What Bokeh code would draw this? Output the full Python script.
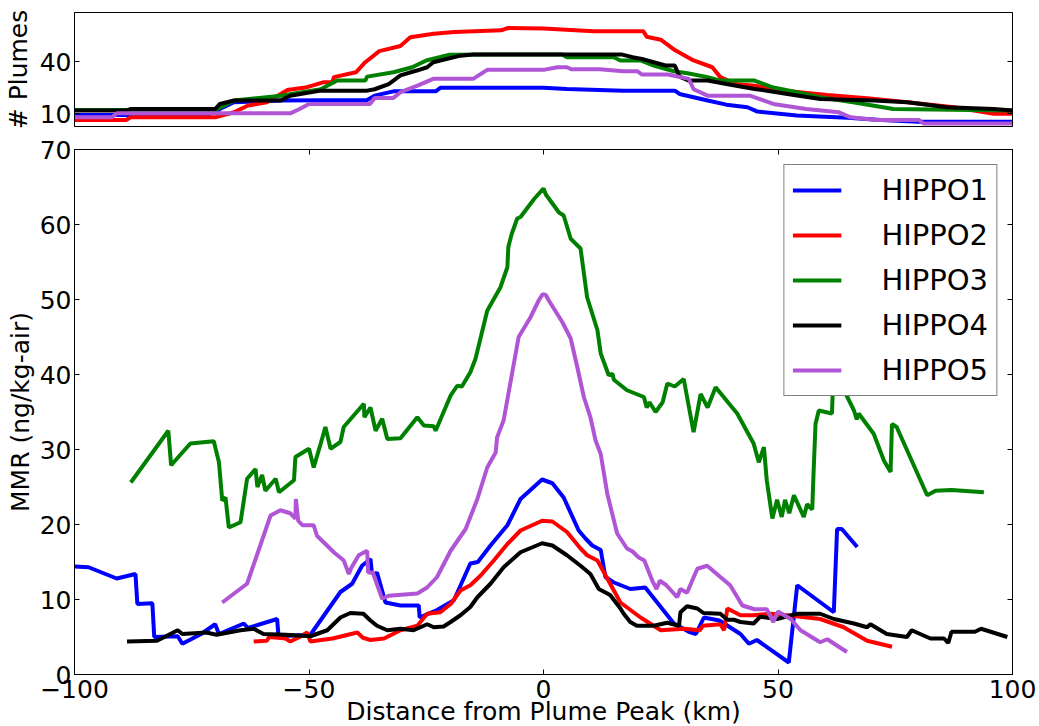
from bokeh.plotting import figure
from bokeh.layouts import column
from bokeh.models import Range1d, LinearAxis, FixedTicker
from bokeh.embed import file_html
from bokeh.resources import INLINE

# ---------------- data ----------------
series_names = ["HIPPO1", "HIPPO2", "HIPPO3", "HIPPO4", "HIPPO5"]
series_colors = ["#0000ff", "#ff0000", "#008000", "#000000", "#b055d6"]

# top panel: number of plumes vs distance
n1_x = [-100, -72, -70, -69, -66, -56, -37.6, -36, -32, -23, -22, 0, 5, 17, 28, 29, 35, 39, 43.5, 45.6, 54, 64.8, 72, 80, 100]
n1_y = [9.2, 9.2, 10.7, 12.6, 16.5, 17.5, 17.8, 20.3, 22.8, 22.8, 24.8, 24.8, 24.2, 23.2, 23.2, 21.3, 17.5, 15.1, 13.6, 11.1, 8.8, 7.5, 6.3, 5.3, 5.3]
n2_x = [-100, -89, -88, -70, -66, -63, -59, -54.6, -50.4, -47, -45, -44.7, -40, -38, -35, -30.5, -28.4, -23.4, -19, -9, -7.7, 0, 10.7, 21.3, 22, 25, 27.8, 32, 36, 37.7, 41, 45, 52, 60.5, 69, 77.6, 87.5, 96, 100]
n2_y = [6.3, 6.3, 7.8, 7.8, 10.7, 14.6, 16.5, 23.6, 25.2, 28, 28, 31, 33.8, 39.6, 46, 49, 54, 56, 57, 58, 59.3, 59, 57.5, 57.5, 54.3, 52.6, 47, 40.6, 36.7, 31, 27, 26, 23, 20.7, 18.8, 16.5, 13.6, 9.8, 9.8]
n3_x = [-100, -70, -66, -56, -47.5, -44, -38, -37.6, -32, -28, -25, -20, -10, 0, 4, 5, 15, 16.4, 20.7, 23.5, 27.8, 30.7, 35, 37.7, 45, 49, 53, 59, 66, 74.6, 100]
n3_y = [12, 12, 17.5, 20.3, 24, 29, 29, 31.3, 33.8, 36.7, 40.6, 43.9, 44, 44, 44, 42.5, 42.5, 40.6, 40.6, 37.7, 34.4, 33.2, 31, 29, 29, 25, 22.8, 19.4, 16.5, 12.6, 11.7]
n4_x = [-100, -89, -88, -70, -69, -66, -56, -54, -47.5, -37.6, -36, -33, -30.5, -27, -24.8, -23.5, -17.7, -15, 0, 16.8, 19, 21, 23.5, 26, 28, 29, 31, 35, 39, 45, 52, 59, 70.4, 77.6, 86, 96, 100]
n4_y = [11.7, 11.7, 12.6, 12.6, 15.5, 17.5, 17.5, 20.3, 23.2, 23.2, 24, 27, 32, 34.8, 36.7, 39.6, 43.4, 44, 44, 44, 42.5, 41.5, 39.6, 37.7, 37.7, 31.3, 29, 29, 27, 24.2, 21.3, 18.4, 17.5, 16.5, 13.6, 12.6, 11.7]
n5_x = [-100, -92, -91, -54, -52, -50, -37, -36, -32, -30.5, -27, -23.5, -15, -12, 0, 3, 5, 6, 12, 17, 20, 21, 26.5, 31, 32, 35, 44, 49, 56, 63, 65.5, 71, 80, 81, 100]
n5_y = [7.8, 7.8, 10.1, 10.1, 12.6, 15.5, 15.5, 19, 19, 22.3, 26, 30, 30, 35.2, 35.2, 36.7, 36.7, 35.5, 35.5, 34.4, 34.4, 32.5, 32.5, 30, 24, 20.3, 20.3, 15.5, 12.6, 10.7, 7.8, 6.3, 6.3, 4.3, 4.3]

# main panel: MMR vs distance
h1_x = [-100, -97, -91, -87, -86.6, -83.4, -83, -78, -77, -73, -70, -69.2, -63.9, -63, -56.8, -56.5, -49.7, -43.3, -40.8, -38.7, -36.9, -36.6, -36, -35.5, -33.7, -30.5, -26.6, -26.4, -22.7, -19.1, -15.6, -14, -11.3, -7.7, -4.9, -0.3, 1.9, 4.3, 7.5, 9, 10.4, 12.2, 13.2, 14.9, 18.5, 21.7, 27.8, 31, 32.5, 34.2, 37.5, 42, 43.8, 45.5, 52.3, 54.1, 61.9, 62.6, 63.6, 66.9]
h1_y = [14.4, 14.3, 12.8, 13.4, 9.4, 9.5, 5.0, 5.1, 4.1, 5.4, 6.7, 5.4, 6.8, 6.2, 7.4, 5.1, 5.3, 11.0, 12.1, 14.5, 15.4, 13.6, 13.3, 13.6, 9.6, 9.2, 9.2, 7.6, 8.6, 9.9, 14.8, 15.0, 17.2, 19.9, 23.4, 26.0, 25.5, 23.6, 19.2, 18.1, 17.2, 16.6, 13.0, 12.3, 11.4, 11.6, 6.8, 5.7, 5.4, 7.6, 7.2, 5.4, 4.1, 4.6, 1.6, 11.9, 8.3, 19.4, 19.4, 17.0]
h2_x = [-61.8, -59, -58.5, -55, -54, -52, -50.4, -49.7, -45, -39.7, -38.5, -36.9, -34, -30.5, -26.9, -24.8, -22, -19.8, -17.7, -15.6, -13.4, -10.6, -7.7, -4.9, -0.3, 1.9, 5, 7.9, 9.3, 11.5, 12.9, 16.4, 20.7, 25, 30, 33.3, 34, 37.7, 38.5, 39.2, 42, 44.8, 48.4, 52, 59, 64, 69, 74.3]
h2_y = [4.4, 4.5, 5.0, 4.8, 4.4, 5.0, 5.6, 4.4, 4.8, 5.6, 4.9, 4.6, 4.8, 5.9, 6.5, 8.1, 8.3, 9.4, 11.2, 11.9, 13.2, 15.2, 17.4, 19.2, 20.5, 20.4, 19.0, 16.8, 15.9, 15.2, 13.6, 9.6, 7.6, 5.9, 6.1, 5.9, 6.5, 6.7, 5.9, 8.8, 7.9, 7.9, 8.1, 7.9, 7.4, 6.3, 4.5, 3.7]
h3_x = [-88, -80, -79.4, -75.3, -70.3, -69.2, -68.5, -67.8, -67.1, -64.6, -63.2, -61.4, -61, -60, -59.3, -57.1, -56.4, -53.2, -52.9, -50, -49, -47.5, -46.5, -45.4, -43.3, -42.6, -38.3, -38.2, -36.9, -35.8, -34.4, -33.3, -30.5, -26.9, -25.5, -23.4, -23, -19.8, -18.4, -17.4, -15.6, -14.5, -12, -9.2, -7.7, -7.5, -6.8, -5.6, -4.9, -2, 0, 0.5, 1.9, 3.3, 4.3, 5.8, 7.9, 9.3, 11.5, 12.2, 13.9, 14.7, 15, 17.8, 21.4, 22, 22.6, 23.9, 25.4, 26.4, 28, 29.9, 32, 33.5, 35, 36.7, 41.3, 44.8, 45.9, 47, 47.6, 48.8, 49.8, 50.8, 51.5, 52.4, 53.4, 55.5, 56.2, 57.3, 57.6, 58, 58.7, 61.5, 61.7, 62.5, 64, 66.2, 66.8, 67.2, 70.4, 72.6, 74, 74.3, 75.3, 81.8, 83.6, 87, 93.9]
h3_y = [25.6, 32.5, 27.9, 30.8, 31.1, 28.3, 23.2, 23.6, 19.6, 20.3, 26.1, 27.4, 25.0, 26.6, 24.5, 26.1, 24.3, 25.9, 29.0, 30.1, 27.6, 30.8, 33.0, 30.1, 31.0, 33.0, 36.1, 34.3, 35.6, 32.5, 34.1, 31.4, 31.5, 34.3, 33.2, 33.1, 32.5, 37.2, 38.5, 38.4, 40.3, 42.1, 48.5, 51.6, 54.3, 57.0, 58.7, 60.8, 61.0, 63.4, 64.8, 64.0, 62.8, 61.6, 61.2, 58.1, 56.8, 50.3, 45.9, 42.8, 39.9, 40.1, 39.3, 37.9, 37.0, 35.6, 36.3, 35.0, 36.3, 38.8, 38.4, 39.4, 32.3, 37.4, 35.6, 38.3, 34.8, 30.8, 28.3, 30.3, 25.9, 20.8, 23.3, 21.0, 23.3, 21.5, 23.9, 21.0, 22.7, 22.0, 27.2, 33.4, 35.2, 34.8, 38.1, 40.0, 38.0, 35.2, 34.0, 34.8, 32.1, 28.5, 27.0, 33.4, 33.0, 23.9, 24.5, 24.6, 24.3]
h4_x = [-88.8, -82.4, -78, -77, -71.9, -69.7, -64.6, -61.8, -59.7, -55, -49.7, -46.1, -43.3, -41.2, -38.4, -36.9, -35.5, -33.3, -30.5, -27.7, -24.8, -23.4, -21.3, -19.8, -17.7, -15.6, -14.1, -11.3, -8.5, -4.9, -0.3, 1.9, 5, 7.9, 10, 11.8, 14.2, 16.4, 17.1, 18.5, 19.9, 23.5, 26.4, 28.9, 29.2, 30.6, 32.8, 34.1, 37.7, 39.2, 40.6, 42, 44.8, 46.2, 49.8, 54.1, 59, 61.9, 66.2, 69, 69.7, 73.2, 77.5, 78.5, 82.5, 85.4, 86.3, 87, 92, 93.3, 98.9]
h4_y = [4.4, 4.5, 5.9, 5.4, 5.6, 5.3, 5.9, 6.1, 5.4, 5.3, 5.1, 5.9, 7.6, 8.2, 8.1, 7.2, 6.5, 5.9, 6.1, 5.9, 6.7, 6.3, 6.4, 7.0, 7.9, 9.0, 10.3, 12.1, 14.3, 16.3, 17.5, 17.2, 15.9, 14.5, 13.4, 11.4, 10.6, 8.8, 8.1, 7.0, 6.5, 6.5, 6.9, 6.5, 8.3, 9.1, 8.8, 8.2, 8.1, 7.3, 7.3, 7.0, 6.8, 7.7, 7.4, 8.1, 8.1, 7.4, 6.8, 6.3, 6.7, 5.4, 5.0, 5.9, 4.8, 4.8, 4.2, 5.7, 5.7, 6.1, 5.0]
h5_x = [-68.5, -66.6, -63.2, -61, -58.2, -56.1, -54, -52.9, -52.8, -52.3, -51.4, -49, -48.3, -44.7, -42.6, -41.5, -41, -39.4, -37.6, -37.4, -36.4, -34.4, -33, -26.9, -24.8, -22.7, -19.8, -16.6, -14.1, -12, -10.2, -9.9, -8.5, -5.3, -2.8, -1, -0.2, 0.5, 1.1, 2.2, 4, 5.8, 7.2, 8.6, 10, 11.1, 12.2, 13.6, 15.7, 17.8, 19, 20.3, 21.5, 23.2, 24.1, 24.8, 26.2, 28.5, 29.2, 30.6, 32.8, 34.9, 37.7, 39.8, 42.4, 45, 47.6, 49, 50, 52.7, 54.8, 59, 60.5, 64.7]
h5_y = [9.6, 10.5, 12.1, 16.1, 21.2, 21.9, 21.5, 20.8, 23.4, 20.5, 19.9, 19.9, 18.5, 16.3, 15.2, 13.4, 14.2, 15.9, 16.5, 13.6, 13.6, 10.1, 10.5, 10.8, 11.6, 13.0, 16.5, 19.4, 23.4, 27.6, 29.6, 31.6, 33.9, 45.0, 47.6, 49.9, 50.7, 50.6, 49.9, 48.8, 47.0, 44.8, 41.0, 37.0, 34.3, 31.2, 29.4, 24.1, 18.8, 16.8, 16.4, 15.6, 15.2, 12.5, 11.4, 12.5, 11.9, 10.3, 11.4, 10.9, 14.1, 14.5, 13.0, 11.9, 9.2, 8.7, 8.7, 7.0, 8.4, 7.4, 5.9, 4.3, 4.7, 3.0]

x_ticks = [-100, -50, 0, 50, 100]
y_ticks_main = [0, 10, 20, 30, 40, 50, 60, 70]
y_ticks_top = [10, 40]

top_xs = [n1_x, n2_x, n3_x, n4_x, n5_x]
top_ys = [n1_y, n2_y, n3_y, n4_y, n5_y]
main_xs = [h1_x, h2_x, h3_x, h4_x, h5_x]
main_ys = [h1_y, h2_y, h3_y, h4_y, h5_y]

FONT = "DejaVu Sans"
LW = 4


def style_axis(ax, ticks, show_labels=True, size="25px"):
    ax.ticker = FixedTicker(ticks=ticks)
    ax.major_tick_in = 5
    ax.major_tick_out = 0
    ax.minor_tick_line_color = None
    ax.axis_line_color = "black"
    ax.major_tick_line_color = "black"
    ax.major_label_text_font = FONT
    ax.axis_label_text_font = FONT
    ax.axis_label_text_font_style = "normal"
    ax.axis_label_text_font_size = "25px"
    ax.axis_label_text_color = "black"
    if show_labels:
        ax.major_label_text_font_size = size
        ax.major_label_text_color = "black"
    else:
        ax.major_label_text_font_size = "1px"
        ax.major_label_text_color = None
        ax.major_label_standoff = 0


# ---------------- top panel ----------------
top = figure(frame_width=938, frame_height=114, x_range=Range1d(-100, 100),
             y_range=Range1d(2.5, 68.3), output_backend="svg", toolbar_location=None,
             min_border_left=74, min_border_right=27, min_border_top=12, min_border_bottom=10,
             outline_line_color="black", outline_line_width=1)
top.xaxis.visible = False
top.xgrid.visible = False
top.ygrid.visible = False
style_axis(top.yaxis[0], y_ticks_top)
top.yaxis[0].axis_label = "# Plumes"
top.yaxis[0].major_label_standoff = 3
top.yaxis[0].axis_label_standoff = 4
r_top = LinearAxis()
style_axis(r_top, y_ticks_top, show_labels=False)
top.add_layout(r_top, "right")

for xs, ys, c in zip(top_xs, top_ys, series_colors):
    top.line(xs, ys, line_color=c, line_width=LW)

# ---------------- main panel ----------------
p = figure(frame_width=938, frame_height=525, x_range=Range1d(-100, 100),
           y_range=Range1d(0, 70), output_backend="svg", toolbar_location=None,
           min_border_left=74, min_border_right=27, min_border_top=13, min_border_bottom=52,
           outline_line_color="black", outline_line_width=1)
p.xgrid.visible = False
p.ygrid.visible = False
style_axis(p.xaxis[0], x_ticks)
style_axis(p.yaxis[0], y_ticks_main)
p.xaxis[0].major_label_overrides = {-100: "\u2212100", -50: "\u221250"}
p.xaxis[0].axis_label = "Distance from Plume Peak (km)"
p.xaxis[0].major_label_standoff = 5
p.xaxis[0].axis_label_standoff = -4
p.yaxis[0].axis_label = "MMR (ng/kg-air)"
p.yaxis[0].major_label_standoff = 3
p.yaxis[0].axis_label_standoff = 2

ax_r = LinearAxis()
style_axis(ax_r, y_ticks_main, show_labels=False)
p.add_layout(ax_r, "right")
ax_t = LinearAxis()
style_axis(ax_t, x_ticks, show_labels=False)
p.add_layout(ax_t, "above")

for xs, ys, c, n in zip(main_xs, main_ys, series_colors, series_names):
    p.line(xs, ys, line_color=c, line_width=LW, legend_label=n)

lg = p.legend[0]
lg.location = "top_right"
lg.margin = 15
lg.padding = 8
lg.spacing = 11
lg.glyph_width = 49
lg.glyph_height = 34
lg.label_height = 34
lg.label_standoff = 40
lg.label_text_font = FONT
lg.label_text_font_size = "29px"
lg.label_text_color = "black"
lg.border_line_color = "black"
lg.border_line_width = 1
lg.background_fill_color = "white"
lg.background_fill_alpha = 1.0

layout = column(top, p, spacing=0)
open("out.html", "w").write(file_html(layout, INLINE))
